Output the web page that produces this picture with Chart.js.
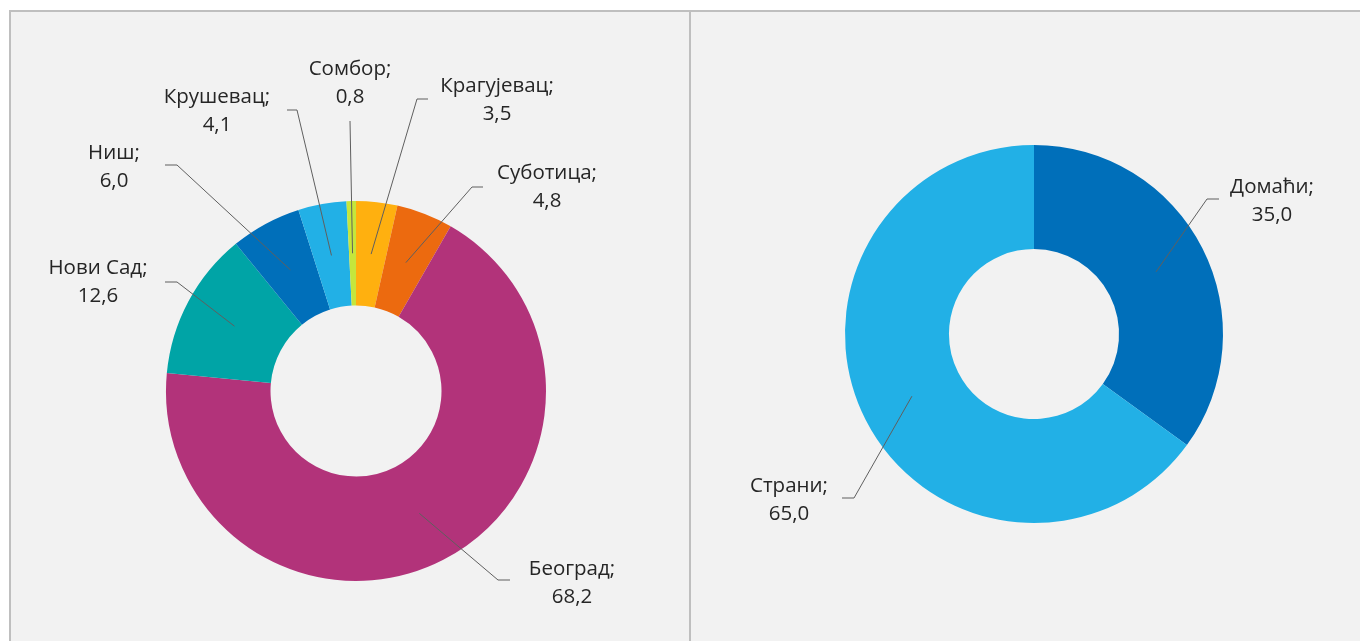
<!DOCTYPE html>
<html>
<head>
<meta charset="utf-8">
<script src="https://cdn.jsdelivr.net/npm/chart.js@4/dist/chart.umd.min.js"></script>
<style>
  html, body { margin: 0; padding: 0; background: #ffffff; overflow: hidden; }
  #wrap { position: relative; width: 1360px; height: 641px; }
  #panel { position: absolute; left: 9px; top: 10px; width: 1360px; height: 640px;
           background: #f2f2f2; border-left: 2px solid #bfbfbf; border-top: 2px solid #bfbfbf; }
  #divider { position: absolute; left: 689px; top: 10px; width: 2px; height: 640px; background: #bfbfbf; }
  canvas { position: absolute; left: 0; top: 0; }
</style>
</head>
<body>
<div id="wrap">
  <div id="panel"></div>
  <div id="divider"></div>
  <canvas id="c1" width="1360" height="641"></canvas>
  <canvas id="c2" width="1360" height="641"></canvas>
</div>
<script>
// ---- Data ----
const cityLabels = ['Крагујевац', 'Суботица', 'Београд', 'Нови Сад', 'Ниш', 'Крушевац', 'Сомбор'];
const cityValues = [3.5, 4.8, 68.2, 12.6, 6.0, 4.1, 0.8];
const originLabels = ['Домаћи', 'Страни'];
const originValues = [35.0, 65.0];

// ---- Styles / layout ----
const cityColors = ['#ffb00f', '#ec6a0f', '#b2337a', '#00a4a6', '#006fba', '#22b0e6', '#c5e63c'];
const originColors = ['#006fba', '#22b0e6'];
// label text centre (x, y of first line) and leader-line elbow / end
const cityLabelLayout = [
  { tx: 497, ty: 86,  ex: 417, ey: 99,  hx: 428 },
  { tx: 547, ty: 173, ex: 472, ey: 187, hx: 483 },
  { tx: 572, ty: 569, ex: 498, ey: 580, hx: 510 },
  { tx: 98,  ty: 268, ex: 177, ey: 282, hx: 165 },
  { tx: 114, ty: 153, ex: 177, ey: 165, hx: 165 },
  { tx: 217, ty: 97,  ex: 297, ey: 110, hx: 287 },
  { tx: 350, ty: 69,  ex: 350, ey: 121, hx: 350 }
];
const originLabelLayout = [
  { tx: 1272, ty: 187, ex: 1207, ey: 199, hx: 1219 },
  { tx: 789,  ty: 486, ex: 854,  ey: 498, hx: 842 }
];
const FONT = '20.5px "Open Sans", "Noto Sans", sans-serif';
const LINE_GAP = 28.5;

function fmt(v) { return v.toFixed(1).replace('.', ','); }

const leaderPlugin = {
  id: 'leaders',
  afterDraw(chart, args, opts) {
    const ctx = chart.ctx;
    const meta = chart.getDatasetMeta(0);
    const labels = chart.data.labels;
    const values = chart.data.datasets[0].data;
    ctx.save();
    meta.data.forEach((arc, i) => {
      const p = arc.getProps(['x', 'y', 'startAngle', 'endAngle', 'innerRadius', 'outerRadius'], true);
      const mid = (p.startAngle + p.endAngle) / 2;
      const r = (p.innerRadius + p.outerRadius) / 2;
      const ax = p.x + Math.cos(mid) * r;
      const ay = p.y + Math.sin(mid) * r;
      const L = opts.layout[i];
      ctx.strokeStyle = '#5f5f5f';
      ctx.lineWidth = 1;
      ctx.beginPath();
      ctx.moveTo(ax, ay);
      ctx.lineTo(L.ex, L.ey);
      ctx.lineTo(L.hx, L.ey);
      ctx.stroke();
      ctx.fillStyle = '#262626';
      ctx.font = FONT;
      ctx.textAlign = 'center';
      ctx.textBaseline = 'middle';
      ctx.fillText(labels[i] + ';', L.tx, L.ty);
      ctx.fillText(fmt(values[i]), L.tx, L.ty + LINE_GAP);
    });
    ctx.restore();
  }
};

function makeChart(id, labels, values, colors, layout, padding) {
  return new Chart(document.getElementById(id), {
    type: 'doughnut',
    data: { labels: labels, datasets: [{ data: values, backgroundColor: colors, borderWidth: 0 }] },
    options: {
      responsive: false,
      animation: false,
      devicePixelRatio: 1,
      cutout: '45%',
      layout: { padding: padding },
      plugins: { legend: { display: false }, tooltip: { enabled: false }, leaders: { layout: layout } }
    },
    plugins: [leaderPlugin]
  });
}

makeChart('c1', cityLabels, cityValues, cityColors, cityLabelLayout,
  { left: 166, right: 1360 - 546, top: 201, bottom: 641 - 581 });
makeChart('c2', originLabels, originValues, originColors, originLabelLayout,
  { left: 845, right: 1360 - 1223, top: 145, bottom: 641 - 523 });
</script>
</body>
</html>
